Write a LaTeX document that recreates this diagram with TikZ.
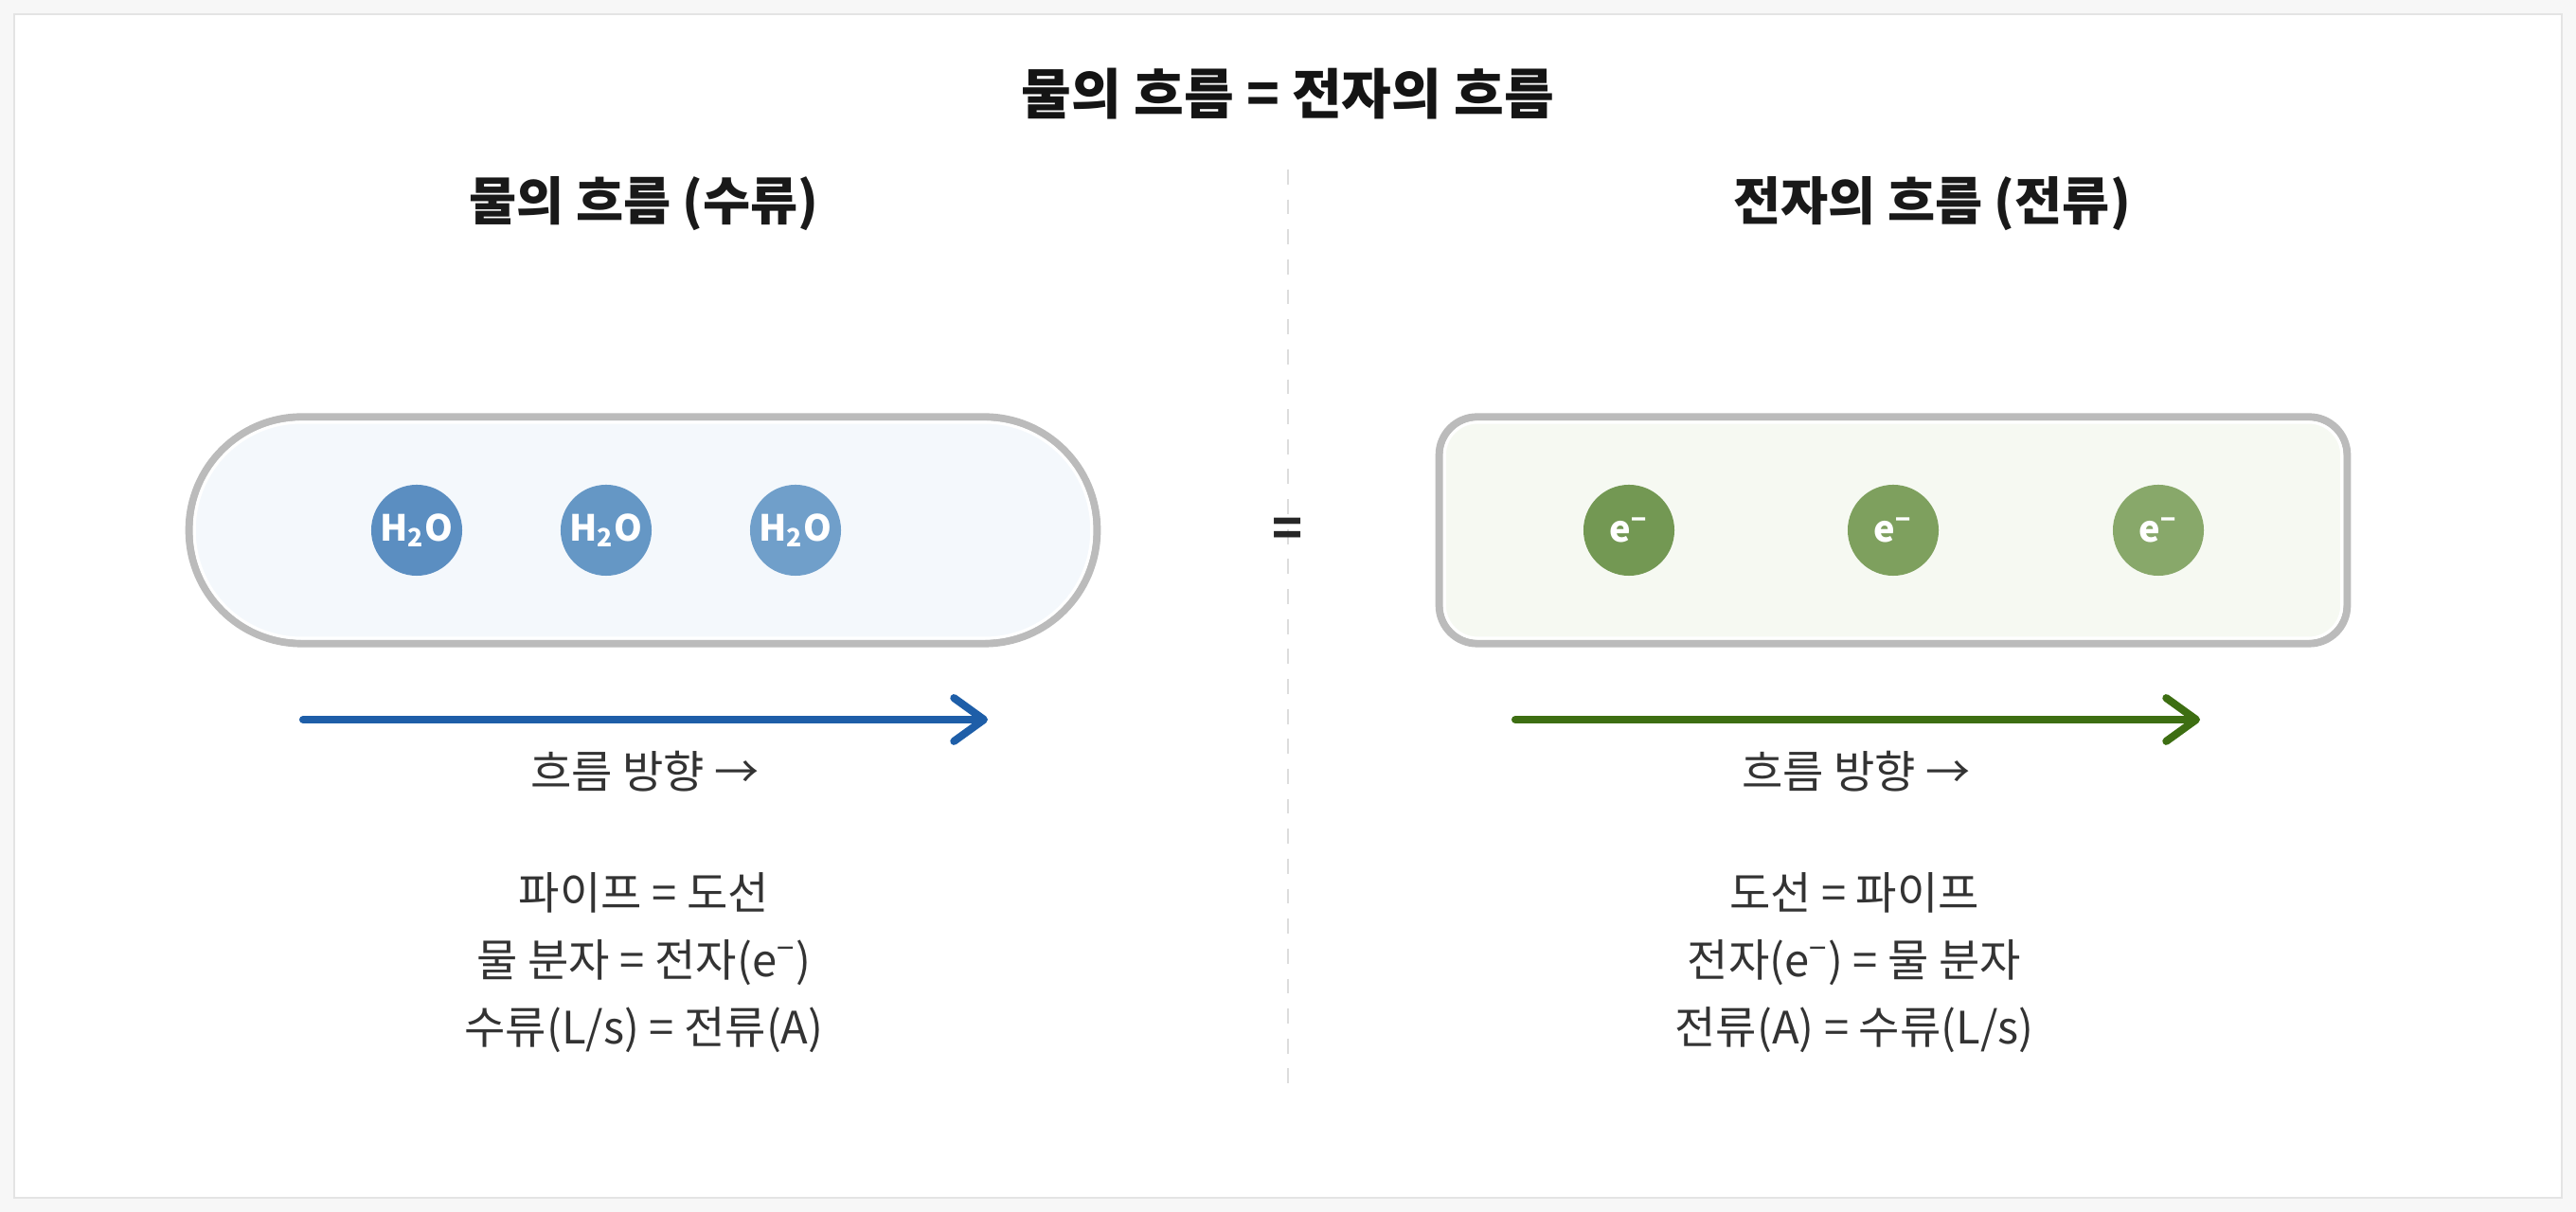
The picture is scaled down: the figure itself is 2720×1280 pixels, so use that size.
\documentclass[tikz,border=0pt]{standalone}
\usepackage{fontspec}
\setmainfont{Noto Sans CJK KR}
\usetikzlibrary{arrows.meta}
\definecolor{pagebg}{HTML}{F7F7F7}
\definecolor{cardline}{HTML}{E4E4E4}
\definecolor{pipegray}{HTML}{BBBBBB}
\definecolor{waterbg}{HTML}{F4F8FC}
\definecolor{wirebg}{HTML}{F6F9F2}
\definecolor{waterblue}{HTML}{1E5EA8}
\definecolor{wiregreen}{HTML}{3D6E12}
\definecolor{h2oa}{HTML}{5B8EC1}
\definecolor{h2ob}{HTML}{6597C5}
\definecolor{h2oc}{HTML}{709FCA}
\definecolor{ela}{HTML}{739853}
\definecolor{elb}{HTML}{7EA05E}
\definecolor{elc}{HTML}{88A86A}
\definecolor{txtgray}{HTML}{333333}
\definecolor{divgray}{HTML}{DDDDDD}
\begin{document}
\begin{tikzpicture}[x=0.01cm, y=-0.01cm,
  mol/.style={circle, minimum size=0.96cm, inner sep=0pt, text=white, font=\fontsize{10.8}{12}\selectfont\bfseries},
  head/.style={text=black!90, font=\fontsize{15.5}{18}\selectfont\bfseries},
  note/.style={text=txtgray, font=\fontsize{13.4}{16}\selectfont},
  flow/.style={line width=2.3pt, line cap=round, -{Straight Barb[length=9pt, width=13pt, round]}}]
\useasboundingbox[fill=pagebg] (0,0) rectangle (2720,1280);
\draw[cardline, fill=white] (15,15) rectangle (2705,1265);
\node[text=black!92, font=\fontsize{16.3}{19}\selectfont\bfseries] (title) at (1360,99) {물의 흐름 = 전자의 흐름};
\node[head] (lhead) at (680,215) {물의 흐름 (수류)};
\node[head] (rhead) at (2040,215) {전자의 흐름 (전류)};
\coordinate (dtop) at (1360,179);
\coordinate (dbot) at (1360,1154);
\draw[divgray, line width=0.6pt, dash pattern=on 4.5pt off 4.5pt] (dtop) -- (dbot);
% pipe
\node[draw=pipegray, line width=2.3pt, fill=waterbg, rounded corners=1.19cm, minimum width=9.58cm, minimum height=2.39cm] (pipe) at (679,560) {};
\node[draw=white, line width=0.9pt, rounded corners=1.13cm, minimum width=9.47cm, minimum height=2.28cm] (pipein) at (pipe.center) {};
\node[mol, fill=h2oa] (w1) at (440,560) {H\textsubscript{2}O};
\node[mol, fill=h2ob] (w2) at (640,560) {H\textsubscript{2}O};
\node[mol, fill=h2oc] (w3) at (840,560) {H\textsubscript{2}O};
% wire
\node[draw=pipegray, line width=2.3pt, fill=wirebg, rounded corners=0.4cm, minimum width=9.58cm, minimum height=2.39cm] (wire) at (1999,560) {};
\node[draw=white, line width=0.9pt, rounded corners=0.35cm, minimum width=9.47cm, minimum height=2.28cm] (wirein) at (wire.center) {};
\node[mol, fill=ela] (e1) at (1720,560) {e\textsuperscript{−}};
\node[mol, fill=elb] (e2) at (1999,560) {e\textsuperscript{−}};
\node[mol, fill=elc] (e3) at (2279,560) {e\textsuperscript{−}};
\node[text=black!85, font=\fontsize{15}{18}\selectfont\bfseries] (eq) at (1360,562) {=};
% flow arrows
\coordinate (la) at (320,760);
\coordinate (lb) at (1043,760);
\draw[flow, waterblue] (la) -- (lb);
\coordinate (ra) at (1600,760);
\coordinate (rb) at (2323,760);
\draw[flow, wiregreen] (ra) -- (rb);
\node[note] (ldir) at (681,815) {흐름 방향 →};
\node[note] (rdir) at (1960,815) {흐름 방향 →};
\node[note] (l1) at (680,943) {파이프 = 도선};
\node[note] (l2) at (680,1017) {물 분자 = 전자(e\textsuperscript{−})};
\node[note] (l3) at (680,1088) {수류(L/s) = 전류(A)};
\node[note] (r1) at (1958,943) {도선 = 파이프};
\node[note] (r2) at (1958,1017) {전자(e\textsuperscript{−}) = 물 분자};
\node[note] (r3) at (1958,1088) {전류(A) = 수류(L/s)};
\end{tikzpicture}
\end{document}
